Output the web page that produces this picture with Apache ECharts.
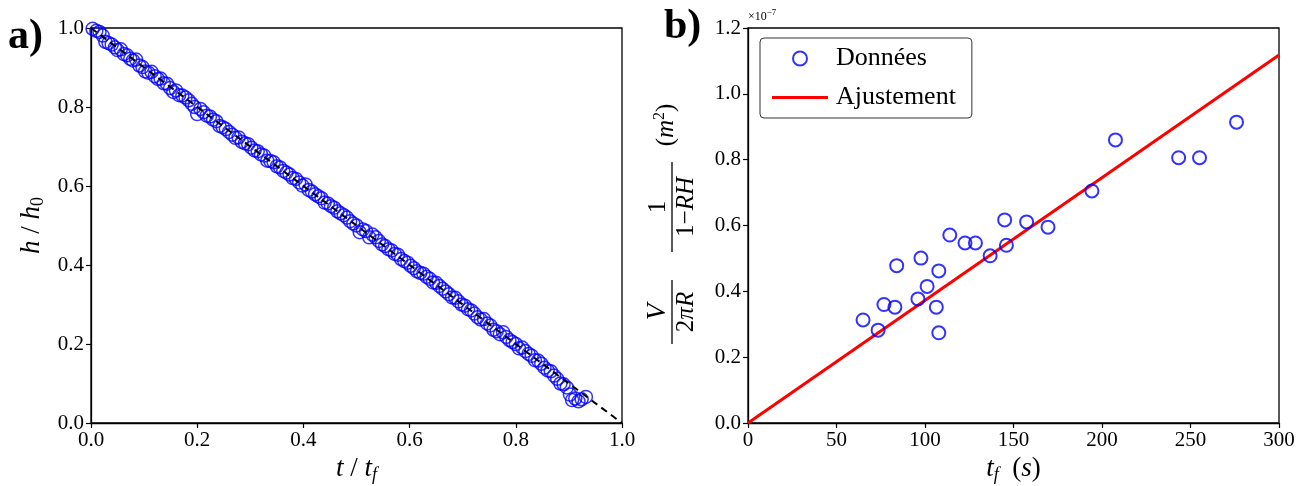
<!DOCTYPE html>
<html>
<head>
<meta charset="utf-8">
<script src="https://cdn.jsdelivr.net/npm/echarts@6/dist/echarts.min.js"></script>
<style>html,body{margin:0;padding:0;background:#fff}#c{width:1308px;height:486px}</style>
</head>
<body>
<div id="c"></div>
<script>
// ---- Panel a) : normalised height vs normalised time ----
const aT = [0.003,0.010,0.016,0.022,0.027,0.033,0.039,0.045,0.050,0.056,0.062,0.068,0.074,0.079,0.085,0.091,0.097,0.102,0.108,0.114,
0.120,0.126,0.131,0.137,0.143,0.149,0.155,0.160,0.166,0.172,0.178,0.184,0.190,0.195,0.200,0.206,0.212,0.218,0.224,0.230,
0.236,0.242,0.248,0.254,0.260,0.266,0.272,0.278,0.284,0.290,0.296,0.302,0.308,0.314,0.320,0.326,0.332,0.338,0.344,0.350,
0.356,0.362,0.368,0.374,0.380,0.386,0.392,0.398,0.404,0.410,0.416,0.422,0.428,0.434,0.440,0.446,0.452,0.458,0.464,0.470,
0.476,0.482,0.488,0.494,0.500,0.506,0.512,0.518,0.524,0.530,0.536,0.542,0.548,0.554,0.560,0.566,0.572,0.578,0.584,0.590,
0.596,0.602,0.608,0.614,0.620,0.626,0.632,0.638,0.644,0.650,0.656,0.662,0.668,0.674,0.680,0.686,0.692,0.698,0.704,0.710,
0.716,0.722,0.728,0.734,0.740,0.746,0.752,0.758,0.764,0.770,0.776,0.782,0.788,0.794,0.800,0.806,0.812,0.818,0.824,0.830,
0.836,0.842,0.848,0.854,0.860,0.866,0.872,0.878,0.884,0.890,0.896,0.902,0.906,0.912,0.918,0.924,0.932];
const aH = [0.998,0.993,0.990,0.981,0.965,0.962,0.958,0.951,0.944,0.946,0.934,0.931,0.922,0.918,0.920,0.905,0.901,0.890,0.887,0.889,
0.878,0.871,0.872,0.860,0.859,0.848,0.838,0.842,0.830,0.829,0.824,0.817,0.808,0.800,0.782,0.795,0.787,0.778,0.776,0.768,
0.764,0.752,0.749,0.744,0.737,0.730,0.722,0.723,0.712,0.708,0.706,0.697,0.690,0.688,0.680,0.677,0.664,0.663,0.660,0.650,
0.647,0.638,0.634,0.629,0.620,0.618,0.609,0.601,0.604,0.590,0.586,0.579,0.574,0.569,0.558,0.556,0.549,0.545,0.536,0.531,
0.526,0.520,0.511,0.505,0.500,0.483,0.490,0.486,0.470,0.477,0.470,0.461,0.452,0.448,0.440,0.437,0.428,0.426,0.415,0.410,
0.406,0.398,0.392,0.384,0.380,0.378,0.370,0.365,0.356,0.355,0.347,0.340,0.333,0.326,0.318,0.317,0.308,0.300,0.297,0.288,
0.285,0.277,0.268,0.262,0.263,0.252,0.247,0.236,0.232,0.225,0.230,0.218,0.210,0.205,0.200,0.189,0.191,0.182,0.175,0.170,
0.159,0.158,0.150,0.140,0.133,0.131,0.120,0.112,0.100,0.098,0.090,0.072,0.058,0.062,0.055,0.060,0.066];
const aRefT = [0, 1];
const aRefH = [1, 0];
const aTicks = [0, 0.2, 0.4, 0.6, 0.8, 1.0];

// ---- Panel b) : V/(2πR)·1/(1−RH) vs t_f, values in units of 1e-7 m² ----
const bTf  = [65, 73.5, 76.8, 83, 84, 96, 97.7, 101.2, 106.4, 107.8, 107.8, 114, 122.6, 128.5, 136.8, 145, 146, 157.4, 169.5, 194.3, 207.6, 243.3, 255.1, 276];
const bVal = [0.313, 0.282, 0.360, 0.352, 0.478, 0.377, 0.501, 0.415, 0.352, 0.462, 0.274, 0.571, 0.547, 0.547, 0.508, 0.617, 0.540, 0.611, 0.595, 0.705, 0.860, 0.806, 0.806, 0.914];
const bFitT = [0, 300];
const bFitV = [0, 1.118];
const bXTicks = [0, 50, 100, 150, 200, 250, 300];
const bYTicks = [0, 0.2, 0.4, 0.6, 0.8, 1.0, 1.2];

const SERIF = '"Liberation Serif", "DejaVu Serif", serif';
const zip = (a, b) => a.map((v, i) => [v, b[i]]);

const axisCommon = {
  axisLine: { show: true, onZero: false, lineStyle: { color: '#000', width: 1.3 } },
  axisTick: { show: true, inside: false, length: 5, lineStyle: { color: '#000', width: 1.2 } },
  splitLine: { show: false },
  axisLabel: { color: '#000', fontFamily: SERIF, fontSize: 21, margin: 7 }
};
const nameRich = {
  i: { fontFamily: SERIF, fontStyle: 'italic', fontSize: 27 },
  n: { fontFamily: SERIF, fontSize: 27 },
  s: { fontFamily: SERIF, fontStyle: 'italic', fontSize: 18, padding: [12, 0, 0, 0] },
  z: { fontFamily: SERIF, fontSize: 18, padding: [12, 0, 0, 0] }
};

const chart = echarts.init(document.getElementById('c'), null, { renderer: 'canvas' });
chart.setOption({
  backgroundColor: '#fff',
  animation: false,
  grid: [
    { left: 91, top: 28, width: 531, height: 395, show: true, borderColor: '#000', borderWidth: 1.3, backgroundColor: 'transparent', containLabel: false, outerBoundsMode: 'none' },
    { left: 748, top: 28, width: 531, height: 395, show: true, borderColor: '#000', borderWidth: 1.3, backgroundColor: 'transparent', containLabel: false, outerBoundsMode: 'none' }
  ],
  xAxis: [
    Object.assign({}, axisCommon, {
      gridIndex: 0, type: 'value', min: aTicks[0], max: aTicks[aTicks.length - 1], interval: 0.2,
      axisLabel: Object.assign({}, axisCommon.axisLabel, { formatter: v => v.toFixed(1) }),
      name: '{i|t}{n| / }{i|t}{s|f}', nameLocation: 'middle', nameGap: 28,
      nameTextStyle: { fontFamily: SERIF, fontSize: 27, color: '#000', rich: nameRich }
    }),
    Object.assign({}, axisCommon, {
      gridIndex: 1, type: 'value', min: bXTicks[0], max: bXTicks[bXTicks.length - 1], interval: 50,
      name: '{i|t}{s|f}{n|  (}{i|s}{n|)}', nameLocation: 'middle', nameGap: 28,
      nameTextStyle: { fontFamily: SERIF, fontSize: 27, color: '#000', rich: nameRich }
    })
  ],
  yAxis: [
    Object.assign({}, axisCommon, {
      gridIndex: 0, type: 'value', min: aTicks[0], max: aTicks[aTicks.length - 1], interval: 0.2,
      axisLabel: Object.assign({}, axisCommon.axisLabel, { formatter: v => v.toFixed(1) }),
      name: '{i|h}{n| / }{i|h}{z|0}', nameLocation: 'middle', nameGap: 44, nameRotate: 90,
      nameTextStyle: { fontFamily: SERIF, fontSize: 27, color: '#000', rich: nameRich }
    }),
    Object.assign({}, axisCommon, {
      gridIndex: 1, type: 'value', min: bYTicks[0], max: bYTicks[bYTicks.length - 1], interval: 0.2,
      axisLabel: Object.assign({}, axisCommon.axisLabel, { formatter: v => v.toFixed(1) })
    })
  ],
  legend: {
    left: 760, top: 38, orient: 'vertical',
    itemWidth: 56, itemHeight: 14, itemGap: 12,
    padding: [7, 16, 7, 12],
    borderColor: '#333', borderWidth: 1, borderRadius: 4, backgroundColor: '#fff',
    textStyle: { fontFamily: SERIF, fontSize: 26, color: '#000', lineHeight: 27, padding: [0, 0, 0, 3] },
    data: [
      { name: 'Données' },
      { name: 'Ajustement', icon: 'path://M0,0 L56,0 L56,3 L0,3 Z', itemStyle: { color: '#ff0000', borderWidth: 0 } }
    ]
  },
  series: [
    {
      name: 'mesures a', type: 'scatter', xAxisIndex: 0, yAxisIndex: 0,
      data: zip(aT, aH), symbol: 'circle', symbolSize: 13,
      itemStyle: { color: 'rgba(0,0,0,0)', borderColor: '#0000ff', borderWidth: 1.5 }, z: 2
    },
    {
      name: 'référence a', type: 'line', xAxisIndex: 0, yAxisIndex: 0,
      data: zip(aRefT, aRefH), symbol: 'none',
      lineStyle: { color: '#000', width: 2, type: [7, 5] }, z: 3
    },
    {
      name: 'Ajustement', type: 'line', xAxisIndex: 1, yAxisIndex: 1,
      data: zip(bFitT, bFitV), symbol: 'none', showSymbol: false,
      lineStyle: { color: '#ff0000', width: 3 }, itemStyle: { color: '#ff0000' }, z: 2
    },
    {
      name: 'Données', type: 'scatter', xAxisIndex: 1, yAxisIndex: 1,
      data: zip(bTf, bVal), symbol: 'circle', symbolSize: 13,
      itemStyle: { color: 'rgba(0,0,0,0)', borderColor: '#0000ff', borderWidth: 2 }, z: 3
    }
  ],
  graphic: [
    { type: 'text', left: 8, top: 16, style: { text: 'a)', font: 'bold 42px ' + SERIF, fill: '#000' } },
    { type: 'text', left: 664, top: 6, style: { text: 'b)', font: 'bold 42px ' + SERIF, fill: '#000' } },
    { type: 'text', left: 748, top: 8, style: { text: '{a|×10}{b|−7}', fill: '#000',
        rich: { a: { fontFamily: SERIF, fontSize: 12 }, b: { fontFamily: SERIF, fontSize: 9, padding: [0, 0, 8, 0] } } } },
    {
      type: 'group', x: 672, y: 220, rotation: Math.PI / 2,
      children: [
        { type: 'line', shape: { x1: -124, y1: 0, x2: -60, y2: 0 }, style: { stroke: '#000', lineWidth: 1.3 } },
        { type: 'text', x: -92, y: -14, style: { text: 'V', font: 'italic 27px ' + SERIF, fill: '#000', textAlign: 'center', align: 'center', textVerticalAlign: 'middle', verticalAlign: 'middle' } },
        { type: 'text', x: -92, y: 14, style: { text: '{n|2}{i|πR}', fill: '#000', textAlign: 'center', align: 'center', textVerticalAlign: 'middle', verticalAlign: 'middle',
            rich: { n: { fontFamily: SERIF, fontSize: 25 }, i: { fontFamily: SERIF, fontStyle: 'italic', fontSize: 25 } } } },
        { type: 'line', shape: { x1: -32, y1: 0, x2: 58, y2: 0 }, style: { stroke: '#000', lineWidth: 1.3 } },
        { type: 'text', x: 13, y: -14, style: { text: '1', font: '25px ' + SERIF, fill: '#000', textAlign: 'center', align: 'center', textVerticalAlign: 'middle', verticalAlign: 'middle' } },
        { type: 'text', x: 13, y: 14, style: { text: '{n|1−}{i|RH}', fill: '#000', textAlign: 'center', align: 'center', textVerticalAlign: 'middle', verticalAlign: 'middle',
            rich: { n: { fontFamily: SERIF, fontSize: 25 }, i: { fontFamily: SERIF, fontStyle: 'italic', fontSize: 25 } } } },
        { type: 'text', x: 95, y: -6, style: { text: '{n|(}{i|m}{p|2}{n|)}', fill: '#000', textAlign: 'center', align: 'center', textVerticalAlign: 'middle', verticalAlign: 'middle',
            rich: { n: { fontFamily: SERIF, fontSize: 25 }, i: { fontFamily: SERIF, fontStyle: 'italic', fontSize: 25 }, p: { fontFamily: SERIF, fontSize: 16, padding: [0, 0, 12, 0] } } } }
      ]
    }
  ]
});
</script>
</body>
</html>
